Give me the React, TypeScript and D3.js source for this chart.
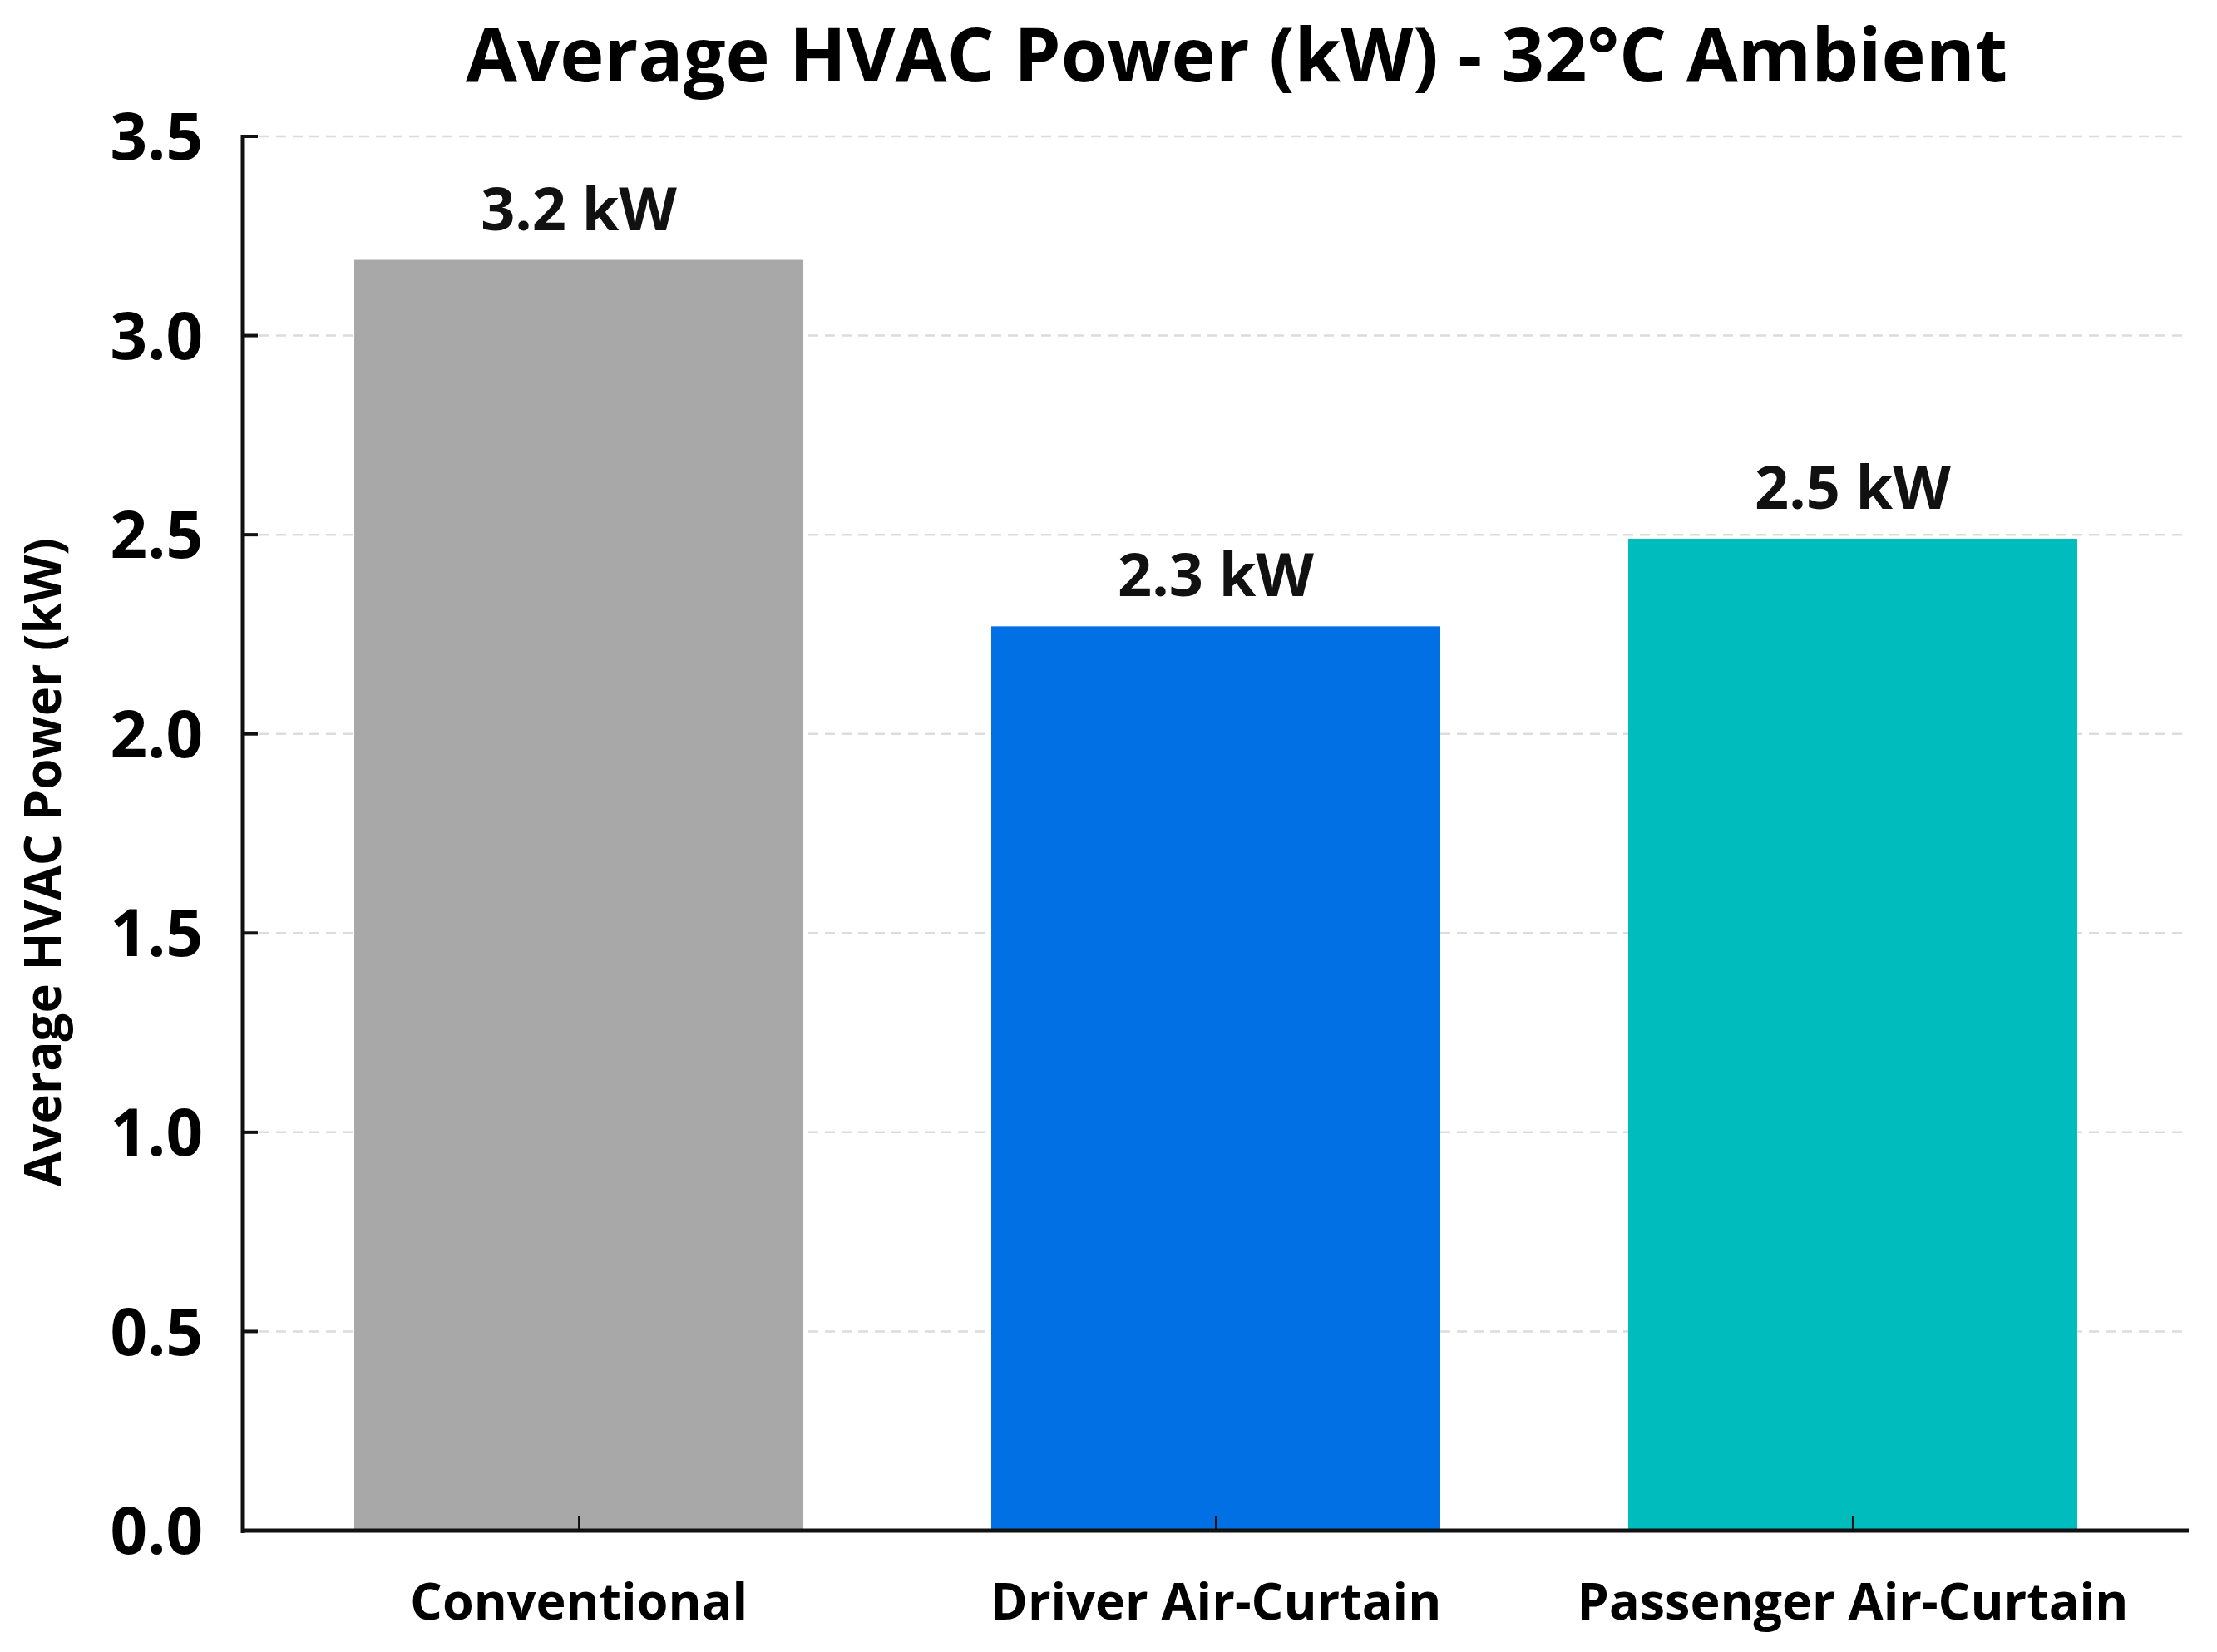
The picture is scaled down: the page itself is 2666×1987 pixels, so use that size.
import React from 'react'
import * as d3 from 'd3'

const categories = ['Conventional', 'Driver Air-Curtain', 'Passenger Air-Curtain']
const powerKw = [3.19, 2.27, 2.49]
const barColors = ['#a8a8a8', '#0070e4', '#00bcbc']
const yTicks = [0, 0.5, 1.0, 1.5, 2.0, 2.5, 3.0, 3.5]

const title = 'Average HVAC Power (kW) - 32°C Ambient'
const yLabel = 'Average HVAC Power (kW)'

const W = 2666
const H = 1987
const margin = { top: 164, right: 34, bottom: 146, left: 292 }
const font = "'Open Sans', 'DejaVu Sans', sans-serif"

export default function App() {
  const x = d3
    .scaleBand<string>()
    .domain(categories)
    .range([margin.left, W - margin.right])
    .paddingInner(0.295)
    .paddingOuter(0.175)

  const y = d3
    .scaleLinear()
    .domain([0, 3.5])
    .range([H - margin.bottom, margin.top])

  const fmt = d3.format('.1f')
  const x0 = margin.left
  const x1 = W - margin.right
  const yBase = y(0)

  return (
    <svg
      width={W}
      height={H}
      style={{ position: 'absolute', left: 0, top: 0, background: '#fff' }}
      fontFamily={font}
    >
      <rect width={W} height={H} fill="#fff" />

      {/* grid */}
      {yTicks.filter(t => t > 0).map(t => (
        <line
          key={'g' + t}
          x1={x0 + 20}
          x2={x1}
          y1={y(t)}
          y2={y(t)}
          stroke="#dcdcdc"
          strokeWidth={2.5}
          strokeDasharray="12,8"
        />
      ))}

      {/* bars */}
      {categories.map((c, i) => (
        <rect
          key={c}
          x={x(c)}
          y={y(powerKw[i])}
          width={x.bandwidth()}
          height={yBase - y(powerKw[i])}
          fill={barColors[i]}
        />
      ))}

      {/* value labels */}
      {categories.map((c, i) => (
        <text
          key={'v' + c}
          x={(x(c) as number) + x.bandwidth() / 2}
          y={y(powerKw[i]) - 36}
          textAnchor="middle"
          fontSize={72}
          fontWeight={700}
          fill="#111"
        >
          {fmt(powerKw[i]) + ' kW'}
        </text>
      ))}

      {/* y axis */}
      <line x1={x0} x2={x0} y1={y(3.5) - 2} y2={yBase + 3} stroke="#111" strokeWidth={5} />
      {yTicks.map(t => (
        <g key={'t' + t}>
          <line x1={x0} x2={x0 + 18} y1={y(t)} y2={y(t)} stroke="#111" strokeWidth={4} />
          <text
            x={x0 - 48}
            y={y(t)}
            dy="0.36em"
            textAnchor="end"
            fontSize={78}
            fontWeight={700}
            fill="#000"
          >
            {fmt(t)}
          </text>
        </g>
      ))}

      {/* x axis */}
      <line x1={x0} x2={x1} y1={yBase} y2={yBase} stroke="#111" strokeWidth={5} />
      {categories.map(c => {
        const cx = (x(c) as number) + x.bandwidth() / 2
        return (
          <g key={'x' + c}>
            <line x1={cx} x2={cx} y1={yBase} y2={yBase - 18} stroke="#111" strokeWidth={2} />
            <text
              x={cx}
              y={1948}
              textAnchor="middle"
              fontSize={61}
              fontWeight={700}
              fill="#000"
            >
              {c}
            </text>
          </g>
        )
      })}

      {/* axis title */}
      <text
        transform={`translate(73, 1037) rotate(-90)`}
        textAnchor="middle"
        fontSize={60}
        fontWeight={700}
        fill="#000"
      >
        {yLabel}
      </text>

      {/* chart title */}
      <text x={1487} y={98} textAnchor="middle" fontSize={90} fontWeight={700} fill="#000">
        {title}
      </text>
    </svg>
  )
}
